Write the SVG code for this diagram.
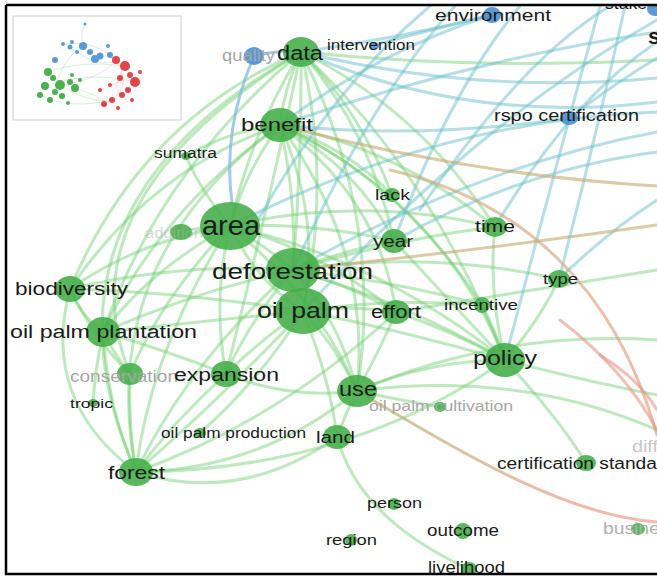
<svg xmlns="http://www.w3.org/2000/svg" width="657" height="576" viewBox="0 0 657 576">
<style>
.e{fill:none;stroke-width:3;stroke-linecap:round}
.g{stroke:#6fcf6f;stroke-opacity:.45}
.t{stroke:#6bbfc9;stroke-opacity:.5}
.bl{stroke:#86b6e2;stroke-opacity:.75}
.o{stroke:#c4a66f;stroke-opacity:.6}
.r{stroke:#e69585;stroke-opacity:.6}
.n{fill:#43ad48;fill-opacity:.88}
.nb{fill:#4a8fd0;fill-opacity:.9}
.l{font-family:"Liberation Sans",Arial,sans-serif;fill:#1b1b1b}
.f{fill:#a6a6a6}
.mg{fill:#4caf50}.mb{fill:#5a9bd6}.mr{fill:#e0454a}
.me{fill:none;stroke-width:.6;stroke-opacity:.5}
</style>
<defs>
<clipPath id="cp"><rect x="7" y="6" width="650" height="567"/></clipPath>
<linearGradient id="gu" gradientUnits="userSpaceOnUse" x1="358" y1="389" x2="657" y2="520"><stop offset="0" stop-color="#b7b272"/><stop offset="1" stop-color="#f09a8a"/></linearGradient>
<linearGradient id="gt" gradientUnits="userSpaceOnUse" x1="390" y1="170" x2="657" y2="435"><stop offset="0" stop-color="#c7b07a"/><stop offset="1" stop-color="#e4977f"/></linearGradient>
</defs>
<rect width="657" height="576" fill="#fff"/>
<g clip-path="url(#cp)">
<g id="connectors">
<path class="e g" d="M301,52 Q284,88 280,125"/>
<path class="e g" d="M301,52 Q252,130 230,226"/>
<path class="e g" d="M301,52 Q302,160 293,270"/>
<path class="e g" d="M301,52 Q332,180 303,311"/>
<path class="e g" d="M301,52 Q140,120 70,289"/>
<path class="e g" d="M301,52 Q160,170 103,332"/>
<path class="e g" d="M301,52 Q270,200 226,374"/>
<path class="e g" d="M301,52 Q385,220 357,391"/>
<path class="e g" d="M301,52 Q430,170 505,360"/>
<path class="e g" d="M301,52 Q20,210 136,472"/>
<path class="e g" d="M301,52 Q60,200 130,374"/>
<path class="e g" d="M280,125 Q246,170 230,226"/>
<path class="e g" d="M280,125 Q297,200 293,270"/>
<path class="e g" d="M280,125 Q322,220 303,311"/>
<path class="e g" d="M280,125 Q150,170 70,289"/>
<path class="e g" d="M280,125 Q160,210 103,332"/>
<path class="e g" d="M280,125 Q95,260 136,472"/>
<path class="e g" d="M280,125 Q372,250 357,391"/>
<path class="e g" d="M280,125 Q440,200 505,360"/>
<path class="e g" d="M280,125 Q380,200 396,312"/>
<path class="e g" d="M280,125 Q360,170 394,241"/>
<path class="e g" d="M280,125 Q400,150 495,227"/>
<path class="e g" d="M280,125 Q350,150 392,195"/>
<path class="e g" d="M230,226 Q265,245 293,270"/>
<path class="e g" d="M230,226 Q255,280 303,311"/>
<path class="e g" d="M230,226 Q140,240 70,289"/>
<path class="e g" d="M230,226 Q150,270 103,332"/>
<path class="e g" d="M230,226 Q160,300 130,374"/>
<path class="e g" d="M230,226 Q150,350 136,472"/>
<path class="e g" d="M230,226 Q212,300 226,374"/>
<path class="e g" d="M230,226 Q320,300 357,391"/>
<path class="e g" d="M230,226 Q380,260 505,360"/>
<path class="e g" d="M230,226 Q320,250 396,312"/>
<path class="e g" d="M230,226 Q310,222 394,241"/>
<path class="e g" d="M230,226 Q360,195 495,227"/>
<path class="e g" d="M293,270 Q180,262 70,289"/>
<path class="e g" d="M293,270 Q200,290 103,332"/>
<path class="e g" d="M293,270 Q190,360 136,472"/>
<path class="e g" d="M293,270 Q250,320 226,374"/>
<path class="e g" d="M293,270 Q340,320 357,391"/>
<path class="e g" d="M293,270 Q400,300 505,360"/>
<path class="e g" d="M293,270 Q350,285 396,312"/>
<path class="e g" d="M293,270 Q345,250 394,241"/>
<path class="e g" d="M293,270 Q390,280 482,305"/>
<path class="e g" d="M293,270 Q400,238 495,227"/>
<path class="e g" d="M303,311 Q180,292 70,289"/>
<path class="e g" d="M303,311 Q200,322 103,332"/>
<path class="e g" d="M303,311 Q220,400 136,472"/>
<path class="e g" d="M303,311 Q260,340 226,374"/>
<path class="e g" d="M303,311 Q335,345 357,391"/>
<path class="e g" d="M303,311 Q330,380 337,437"/>
<path class="e g" d="M303,311 Q400,330 505,360"/>
<path class="e g" d="M303,311 Q390,298 482,305"/>
<path class="e g" d="M303,311 Q350,305 396,312"/>
<path class="e g" d="M70,289 Q80,315 103,332"/>
<path class="e g" d="M70,289 Q40,400 136,472"/>
<path class="e g" d="M70,289 Q95,340 130,374"/>
<path class="e g" d="M103,332 Q108,410 136,472"/>
<path class="e g" d="M103,332 Q115,355 130,374"/>
<path class="e g" d="M103,332 Q165,350 226,374"/>
<path class="e g" d="M130,374 Q128,425 136,472"/>
<path class="e g" d="M226,374 Q175,420 136,472"/>
<path class="e g" d="M357,391 Q260,470 136,472"/>
<path class="e g" d="M337,437 Q240,505 136,472"/>
<path class="e g" d="M357,391 Q345,415 337,437"/>
<path class="e g" d="M357,391 Q430,360 505,360"/>
<path class="e g" d="M357,391 Q380,350 396,312"/>
<path class="e g" d="M505,360 Q450,330 396,312"/>
<path class="e g" d="M505,360 Q495,330 482,305"/>
<path class="e g" d="M505,360 Q488,290 495,227"/>
<path class="e g" d="M505,360 Q540,320 559,279"/>
<path class="e g" d="M505,360 Q440,290 394,241"/>
<path class="e g" d="M337,437 Q360,520 469,569"/>
<path class="e g" d="M505,360 Q580,380 657,395"/>
<path class="e g" d="M357,391 Q500,330 657,340"/>
<path class="e g" d="M396,312 Q530,290 657,270"/>
<path class="e g" d="M226,374 Q290,400 357,391"/>
<path class="e g" d="M200,433 Q260,380 303,311"/>
<path class="e g" d="M136,472 Q280,420 396,312"/>
<path class="e g" d="M136,472 Q350,470 505,360"/>
<path class="e g" d="M93,403 Q95,370 103,332"/>
<path class="e g" d="M186,156 Q200,190 230,226"/>
<path class="e g" d="M186,156 Q230,130 280,125"/>
<path class="e g" d="M181,232 Q205,226 230,226"/>
<path class="e g" d="M392,195 Q360,110 301,52"/>
<path class="e g" d="M394,241 Q370,130 301,52"/>
<path class="e g" d="M495,227 Q420,110 301,52"/>
<path class="e g" d="M482,305 Q400,180 280,125"/>
<path class="e g" d="M559,279 Q430,250 293,270"/>
<path class="e g" d="M301,52 Q480,70 657,60"/>
<path class="e g" d="M505,360 Q560,420 586,463"/>
<path class="e g" d="M357,391 Q520,370 657,430"/>
<path class="e g" d="M440,407 Q400,400 357,391"/>
<path class="e t" d="M301,52 Q480,95 657,78"/>
<path class="e t" d="M301,52 Q470,125 657,102"/>
<path class="e t" d="M280,125 Q470,60 657,32"/>
<path class="e t" d="M374,45 Q430,30 492,15"/>
<path class="e t" d="M301,52 Q400,38 492,15"/>
<path class="e t" d="M255,225 Q330,90 430,6"/>
<path class="e t" d="M293,270 Q370,100 455,6"/>
<path class="e t" d="M394,241 Q450,90 520,6"/>
<path class="e t" d="M505,360 Q560,150 600,6"/>
<path class="e t" d="M559,279 Q600,120 625,6"/>
<path class="e t" d="M569,118 Q420,140 280,125"/>
<path class="e t" d="M569,118 Q620,80 657,58"/>
<path class="e t" d="M230,226 Q440,120 657,112"/>
<path class="e t" d="M293,270 Q480,165 657,132"/>
<path class="e t" d="M394,241 Q520,170 657,152"/>
<path class="e t" d="M495,227 Q570,100 657,42"/>
<path class="e t" d="M559,279 Q610,230 657,200"/>
<path class="e t" d="M492,15 Q380,50 280,125"/>
<path class="e t" d="M420,210 Q520,60 610,6"/>
<path class="e t" d="M303,311 Q480,120 657,20"/>
<path class="e bl" d="M254,56 Q222,130 232,203"/>
<path class="e bl" d="M254,56 Q278,50 301,52"/>
<path class="e o" d="M280,125 Q470,175 657,186"/>
<path class="e o" d="M293,270 Q480,250 657,225"/>
<path class="e" stroke="url(#gt)" stroke-opacity=".65" d="M390,170 C520,200 615,285 657,435"/>
<path class="e" stroke="url(#gu)" stroke-opacity=".7" d="M357,391 C450,445 560,515 657,522"/>
<path class="e r" d="M560,320 Q625,370 657,430"/>
<path class="e r" d="M600,355 Q640,380 657,410"/>
</g>
<g id="n-quality"><ellipse class="nb" cx="254" cy="56" rx="10" ry="9"/><text class="l f" x="222" y="61" font-size="16" textLength="53" lengthAdjust="spacingAndGlyphs">quality</text></g>
<g id="n-intervention"><ellipse class="nb" cx="374" cy="46" rx="5" ry="4"/><text class="l" x="327" y="50" font-size="14" textLength="88" lengthAdjust="spacingAndGlyphs">intervention</text></g>
<g id="n-environment"><ellipse class="nb" cx="492" cy="15" rx="9" ry="8"/><text class="l" x="435" y="21" font-size="17" textLength="116" lengthAdjust="spacingAndGlyphs">environment</text></g>
<g id="n-stake"><ellipse class="nb" cx="655" cy="9" rx="8" ry="7"/><text class="l" x="605" y="9" font-size="16" textLength="42" lengthAdjust="spacingAndGlyphs">stake</text></g>
<g id="n-s"><text class="l" x="648" y="44" font-size="22" font-weight="bold">s</text></g>
<g id="n-rspo"><ellipse class="nb" cx="569" cy="118" rx="9" ry="7"/><text class="l" x="494" y="121" font-size="16" textLength="145" lengthAdjust="spacingAndGlyphs">rspo certification</text></g>
<g id="n-data"><ellipse class="n" cx="301" cy="52" rx="18" ry="15"/><text class="l" x="277" y="60" font-size="20" textLength="46" lengthAdjust="spacingAndGlyphs">data</text></g>
<g id="n-benefit"><ellipse class="n" cx="280" cy="125" rx="20" ry="17"/><text class="l" x="241" y="131" font-size="19" textLength="72" lengthAdjust="spacingAndGlyphs">benefit</text></g>
<g id="n-sumatra"><ellipse class="n" cx="186" cy="156" rx="5" ry="4"/><text class="l" x="154" y="158" font-size="14" textLength="63" lengthAdjust="spacingAndGlyphs">sumatra</text></g>
<g id="n-addition"><ellipse class="n" cx="181" cy="232" rx="11" ry="8"/><text class="l" fill-opacity=".5" style="fill:#b0b0b0" x="145" y="238" font-size="15" textLength="58" lengthAdjust="spacingAndGlyphs">addition</text></g>
<g id="n-area"><ellipse class="n" cx="230" cy="226" rx="30" ry="24"/><text class="l" x="202" y="235" font-size="28" textLength="58" lengthAdjust="spacingAndGlyphs">area</text></g>
<g id="n-lack"><ellipse class="n" cx="392" cy="195" rx="8" ry="7"/><text class="l" x="375" y="200" font-size="15" textLength="35" lengthAdjust="spacingAndGlyphs">lack</text></g>
<g id="n-year"><ellipse class="n" cx="394" cy="241" rx="13" ry="12"/><text class="l" x="373" y="247" font-size="16" textLength="40" lengthAdjust="spacingAndGlyphs">year</text></g>
<g id="n-time"><ellipse class="n" cx="495" cy="227" rx="12" ry="10"/><text class="l" x="475" y="232" font-size="16" textLength="40" lengthAdjust="spacingAndGlyphs">time</text></g>
<g id="n-type"><ellipse class="n" cx="559" cy="279" rx="11" ry="9"/><text class="l" x="543" y="284" font-size="15" textLength="35" lengthAdjust="spacingAndGlyphs">type</text></g>
<g id="n-deforestation"><ellipse class="n" cx="293" cy="270" rx="27" ry="22"/><text class="l" x="212" y="279" font-size="22" textLength="161" lengthAdjust="spacingAndGlyphs">deforestation</text></g>
<g id="n-biodiversity"><ellipse class="n" cx="70" cy="289" rx="15" ry="13"/><text class="l" x="15" y="295" font-size="18" textLength="113" lengthAdjust="spacingAndGlyphs">biodiversity</text></g>
<g id="n-oilpalmplantation"><ellipse class="n" cx="103" cy="332" rx="17" ry="15"/><text class="l" x="10" y="338" font-size="18" textLength="187" lengthAdjust="spacingAndGlyphs">oil palm plantation</text></g>
<g id="n-oilpalm"><ellipse class="n" cx="303" cy="311" rx="28" ry="23"/><text class="l" x="257" y="318" font-size="22" textLength="92" lengthAdjust="spacingAndGlyphs">oil palm</text></g>
<g id="n-effort"><ellipse class="n" cx="396" cy="312" rx="14" ry="12"/><text class="l" x="371" y="318" font-size="18" textLength="50" lengthAdjust="spacingAndGlyphs">effort</text></g>
<g id="n-incentive"><ellipse class="n" cx="482" cy="305" rx="8" ry="8"/><text class="l" x="444" y="310" font-size="15" textLength="74" lengthAdjust="spacingAndGlyphs">incentive</text></g>
<g id="n-policy"><ellipse class="n" cx="505" cy="360" rx="20" ry="17"/><text class="l" x="473" y="365" font-size="21" textLength="64" lengthAdjust="spacingAndGlyphs">policy</text></g>
<g id="n-conservation"><ellipse class="n" cx="130" cy="374" rx="13" ry="11"/><text class="l f" x="70" y="382" font-size="17" textLength="108" lengthAdjust="spacingAndGlyphs">conservation</text></g>
<g id="n-expansion"><ellipse class="n" cx="226" cy="374" rx="15" ry="13"/><text class="l" x="174" y="381" font-size="18" textLength="105" lengthAdjust="spacingAndGlyphs">expansion</text></g>
<g id="n-use"><ellipse class="n" cx="357" cy="391" rx="20" ry="16"/><text class="l" x="339" y="396" font-size="21" textLength="38" lengthAdjust="spacingAndGlyphs">use</text></g>
<g id="n-oilpalmcultivation"><ellipse class="n" cx="440" cy="407" rx="6" ry="5"/><text class="l f" x="369" y="411" font-size="15" textLength="144" lengthAdjust="spacingAndGlyphs">oil palm cultivation</text></g>
<g id="n-tropic"><ellipse class="n" cx="93" cy="403" rx="5" ry="4"/><text class="l" x="70" y="408" font-size="13" textLength="43" lengthAdjust="spacingAndGlyphs">tropic</text></g>
<g id="n-oilpalmproduction"><ellipse class="n" cx="200" cy="433" rx="6" ry="5"/><text class="l" x="161" y="438" font-size="14" textLength="145" lengthAdjust="spacingAndGlyphs">oil palm production</text></g>
<g id="n-land"><ellipse class="n" cx="337" cy="437" rx="14" ry="12"/><text class="l" x="316" y="443" font-size="17" textLength="39" lengthAdjust="spacingAndGlyphs">land</text></g>
<g id="n-forest"><ellipse class="n" cx="136" cy="472" rx="17" ry="14"/><text class="l" x="108" y="479" font-size="19" textLength="57" lengthAdjust="spacingAndGlyphs">forest</text></g>
<g id="n-certification"><ellipse class="n" cx="586" cy="463" rx="10" ry="8"/><text class="l" x="497" y="469" font-size="16" textLength="177" lengthAdjust="spacingAndGlyphs">certification standard</text></g>
<g id="n-diff"><text class="l" style="fill:#c8c8c8" x="632" y="452" font-size="16" textLength="26" lengthAdjust="spacingAndGlyphs">diff</text></g>
<g id="n-person"><ellipse class="n" cx="394" cy="504" rx="6" ry="6"/><text class="l" x="367" y="508" font-size="15" textLength="55" lengthAdjust="spacingAndGlyphs">person</text></g>
<g id="n-outcome"><ellipse class="n" cx="463" cy="531" rx="8" ry="8"/><text class="l" x="427" y="536" font-size="16" textLength="72" lengthAdjust="spacingAndGlyphs">outcome</text></g>
<g id="n-region"><ellipse class="n" cx="351" cy="540" rx="6" ry="6"/><text class="l" x="326" y="545" font-size="15" textLength="51" lengthAdjust="spacingAndGlyphs">region</text></g>
<g id="n-livelihood"><ellipse class="n" cx="469" cy="569" rx="8" ry="7"/><text class="l" x="428" y="573" font-size="16" textLength="77" lengthAdjust="spacingAndGlyphs">livelihood</text></g>
<g id="n-business"><ellipse class="n" cx="638" cy="529" rx="7" ry="6"/><text class="l" style="fill:#b0b0b0" x="603" y="534" font-size="16" textLength="76" lengthAdjust="spacingAndGlyphs">business</text></g>
</g>
<g id="minimap">
<rect x="13" y="16" width="168" height="104" fill="#fff" stroke="#d6d6d6" stroke-width="1.2"/>
<g class="me" stroke="#7cc87c">
<path d="M48,72 Q80,60 125,66"/><path d="M45,86 Q90,70 135,82"/><path d="M60,85 Q100,110 122,95"/><path d="M55,92 Q60,60 83,46"/><path d="M75,88 Q110,100 104,104"/><path d="M40,95 Q70,110 112,100"/>
</g>
<g class="me" stroke="#7fb2e0">
<path d="M85,24 Q80,35 83,46"/><path d="M63,44 Q90,40 110,55"/><path d="M70,47 Q100,70 116,60"/>
</g>
<g class="me" stroke="#e89090">
<path d="M116,60 Q135,90 104,104"/><path d="M125,66 Q110,90 122,95"/><path d="M100,90 Q125,80 140,72"/><path d="M116,60 Q100,80 60,85"/>
</g>
<g class="mb">
<circle cx="85" cy="24" r="1.5"/><circle cx="63" cy="44" r="2"/><circle cx="70" cy="47" r="2.5"/><circle cx="83" cy="46" r="4"/><circle cx="90" cy="52" r="3"/><circle cx="100" cy="56" r="3.5"/><circle cx="95" cy="59" r="4"/><circle cx="108" cy="46" r="2"/><circle cx="110" cy="55" r="3"/><circle cx="77" cy="52" r="2"/><circle cx="55" cy="60" r="3"/><circle cx="72" cy="42" r="2"/>
</g>
<g class="mg">
<circle cx="48" cy="72" r="4"/><circle cx="53" cy="78" r="3"/><circle cx="45" cy="86" r="4"/><circle cx="60" cy="85" r="5"/><circle cx="55" cy="92" r="3"/><circle cx="70" cy="82" r="3"/><circle cx="75" cy="88" r="4"/><circle cx="62" cy="96" r="3"/><circle cx="40" cy="95" r="3"/><circle cx="50" cy="100" r="3"/><circle cx="72" cy="75" r="2"/><circle cx="80" cy="80" r="2"/><circle cx="68" cy="103" r="2"/>
</g>
<g class="mr">
<circle cx="116" cy="60" r="4"/><circle cx="125" cy="66" r="5"/><circle cx="130" cy="75" r="3"/><circle cx="120" cy="78" r="3"/><circle cx="135" cy="82" r="5"/><circle cx="128" cy="90" r="3"/><circle cx="110" cy="85" r="2"/><circle cx="122" cy="95" r="3"/><circle cx="112" cy="100" r="3"/><circle cx="104" cy="104" r="3"/><circle cx="132" cy="100" r="2"/><circle cx="100" cy="90" r="2"/><circle cx="140" cy="72" r="2"/><circle cx="118" cy="108" r="2"/>
</g>
</g>
<g id="frame" fill="none" stroke="#000" stroke-width="2.5">
<path d="M6,5 H657 M6,5 V574 H657"/>
</g>
</svg>
